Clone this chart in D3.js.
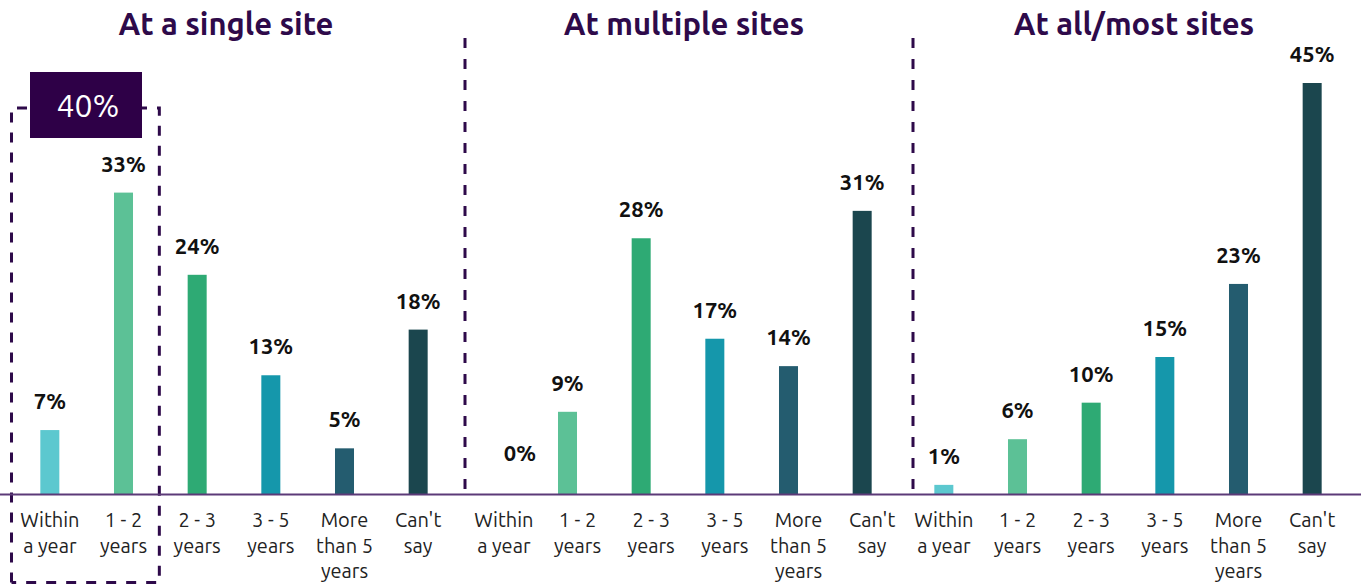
<!DOCTYPE html>
<html>
<head>
<meta charset="utf-8">
<script src="https://cdn.jsdelivr.net/npm/d3@7"></script>
<style>
  body { margin: 0; background: #fff; }
  svg { display: block; font-family: "Ubuntu", "Noto Sans", sans-serif; }
</style>
</head>
<body>
<svg id="chart"></svg>
<script>
// categories shared by each panel
const categories = ['Within a year', '1 - 2 years', '2 - 3 years', '3 - 5 years', 'More than 5 years', "Can't say"];
const categoryLines = [['Within', 'a year'], ['1 - 2', 'years'], ['2 - 3', 'years'], ['3 - 5', 'years'], ['More', 'than 5', 'years'], ["Can't", 'say']];
const panelTitles = ['At a single site', 'At multiple sites', 'At all/most sites'];

// percentages per panel
const singleSite = [7, 33, 24, 13, 5, 18];
const multipleSites = [0, 9, 28, 17, 14, 31];
const allMostSites = [1, 6, 10, 15, 23, 45];
const panelValues = [singleSite, multipleSites, allMostSites];

// combined callout for the first two bars of the first panel
const calloutLabel = '40%';

const colors = ['#5cc8cf', '#5cc196', '#2eaa74', '#1597ab', '#245c6f', '#1b464e'];
const purple = '#2e0a4a';

const width = 1370;
const height = 584;
const baseline = 494;
const panelLeft = [13, 457, 907];
const panelWidth = 442;
const titleShift = [-8, 6, 6];
const tickShift = [0, 10, 0];

const svg = d3.select('#chart')
  .attr('width', width)
  .attr('height', height);

const y = d3.scaleLinear()
  .domain([0, 45])
  .range([baseline, 83]);

panelValues.forEach((values, p) => {
  const x = d3.scaleBand()
    .domain(categories)
    .range([panelLeft[p], panelLeft[p] + panelWidth])
    .paddingInner(0.742)
    .paddingOuter(0.371);
  const cx = i => x(categories[i]) + x.bandwidth() / 2;

  const g = svg.append('g');

  g.append('text')
    .attr('x', panelLeft[p] + panelWidth / 2 + titleShift[p])
    .attr('y', 35)
    .attr('text-anchor', 'middle')
    .attr('fill', purple)
    .attr('font-size', 31)
    .attr('font-weight', 600)
    .text(panelTitles[p]);

  g.selectAll('.bar')
    .data(values)
    .enter()
    .append('rect')
    .attr('class', 'bar')
    .attr('x', (d, i) => x(categories[i]))
    .attr('width', x.bandwidth())
    .attr('y', d => y(d))
    .attr('height', d => baseline - y(d))
    .attr('fill', (d, i) => colors[i]);

  g.selectAll('.value')
    .data(values)
    .enter()
    .append('text')
    .attr('class', 'value')
    .attr('x', (d, i) => cx(i) + (d === 0 ? 26 : 0))
    .attr('y', d => y(d) - (d === 0 ? 33 : 21))
    .attr('text-anchor', 'middle')
    .attr('font-size', 22)
    .attr('font-weight', 'bold')
    .attr('fill', '#111')
    .text(d => d + '%');

  const ticks = g.selectAll('.tick-label')
    .data(categoryLines)
    .enter()
    .append('text')
    .attr('class', 'tick-label')
    .attr('text-anchor', 'middle')
    .attr('font-size', 20)
    .attr('fill', '#222')
    .attr('transform', (d, i) => `translate(${cx(i) + tickShift[p]},0)`);

  ticks.selectAll('tspan')
    .data(d => d)
    .enter()
    .append('tspan')
    .attr('x', 0)
    .attr('y', (d, i) => 527 + i * 25.5)
    .text(d => d);

  if (p === 0) {
    const step = x.step();
    const bx0 = cx(0) - step / 2 - 1.5;
    const bx1 = cx(1) + step / 2 - 1;
    svg.append('path')
      .attr('d', `M${bx0},${height - 1.5}V108H${bx1}V${height - 1.5}H${bx0}`)
      .attr('fill', 'none')
      .attr('stroke', purple)
      .attr('stroke-width', 3)
      .attr('stroke-dasharray', '10,10');

    svg.append('rect')
      .attr('x', 30)
      .attr('y', 72)
      .attr('width', 112)
      .attr('height', 66)
      .attr('fill', '#2e0047');

    svg.append('text')
      .attr('x', 88)
      .attr('y', 117)
      .attr('text-anchor', 'middle')
      .attr('fill', '#fff')
      .attr('font-size', 32)
      .text(calloutLabel);
  }
});

// axis baseline
svg.append('line')
  .attr('x1', 0)
  .attr('x2', 1361)
  .attr('y1', baseline + 0.5)
  .attr('y2', baseline + 0.5)
  .attr('stroke', '#5c3a78')
  .attr('stroke-width', 2);

// dashed panel separators
[465, 913].forEach(sx => {
  svg.append('line')
    .attr('x1', sx)
    .attr('x2', sx)
    .attr('y1', 38)
    .attr('y2', 497)
    .attr('stroke', purple)
    .attr('stroke-width', 3)
    .attr('stroke-dasharray', '10,11');
});
</script>
</body>
</html>
